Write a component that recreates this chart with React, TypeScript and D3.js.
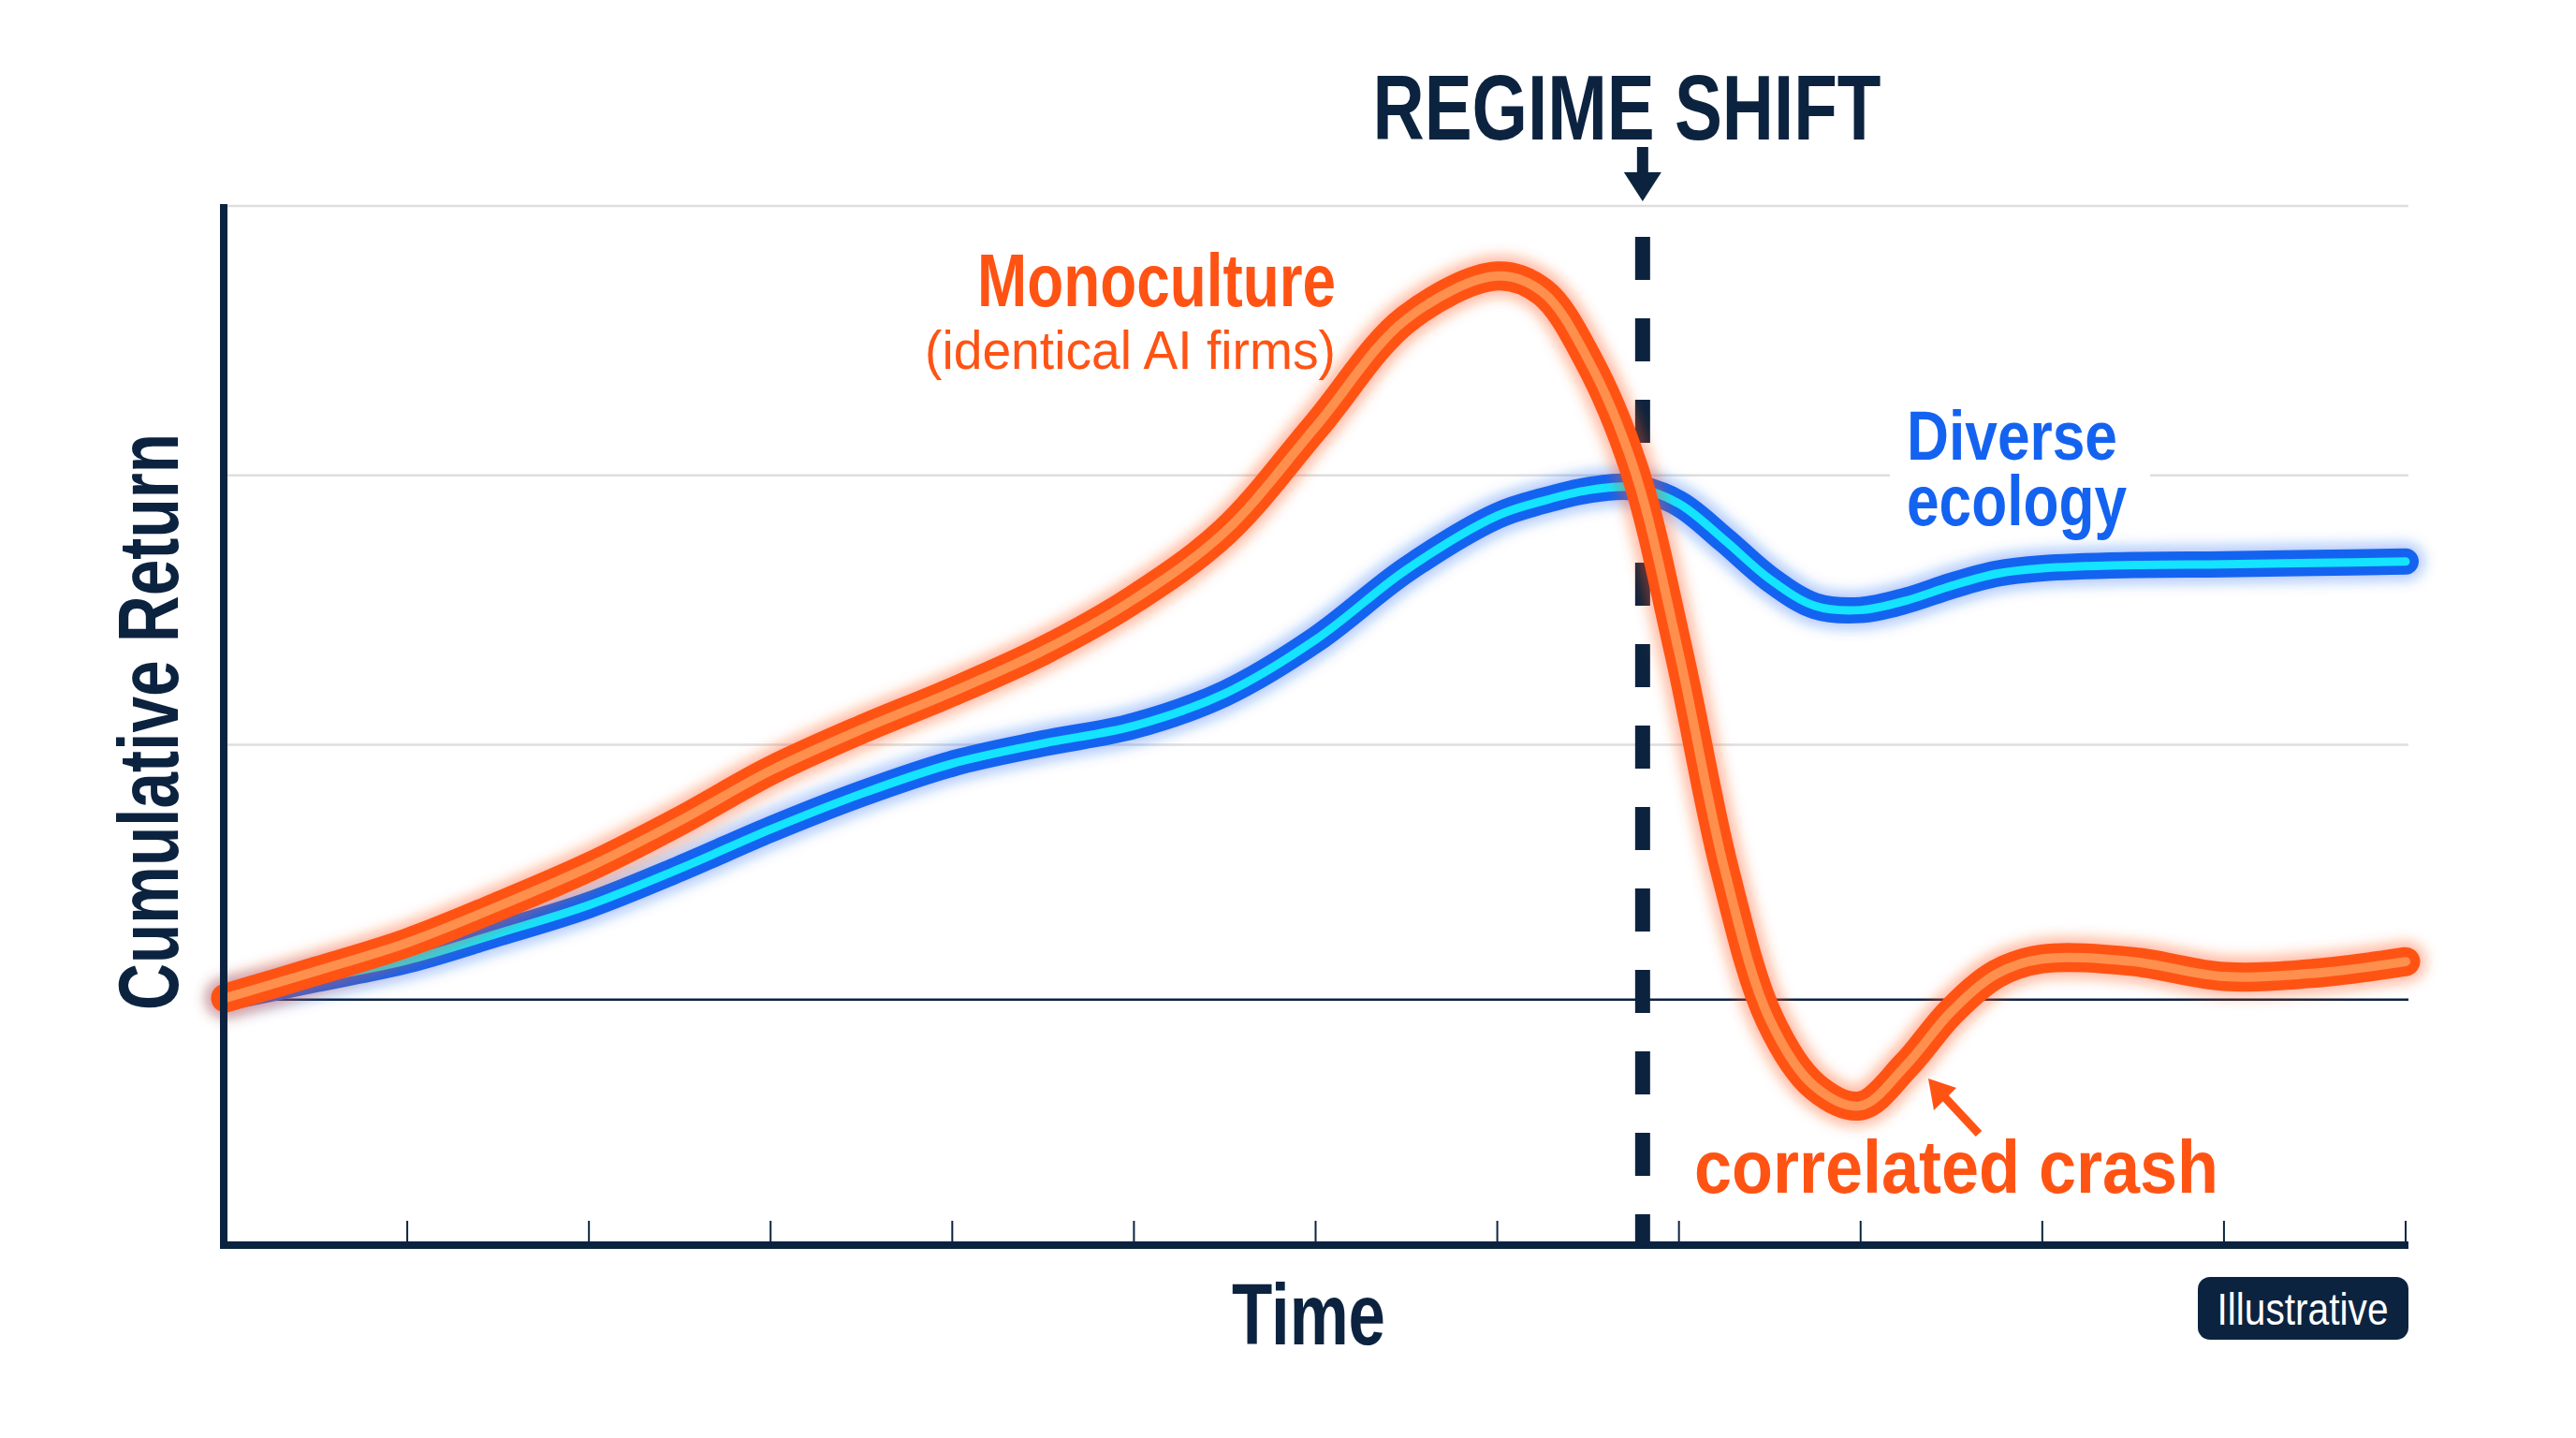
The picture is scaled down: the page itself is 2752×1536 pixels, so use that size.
import React from 'react';
import { scaleLinear, line, curveCatmullRom } from 'd3';

// time steps shared by both series (x axis has 12 unlabeled ticks)
const timeSteps = [0, 0.5, 1, 1.5, 2, 2.5, 3, 3.5, 4, 4.5, 5, 5.5, 6, 6.5, 7, 7.25, 7.5, 7.75, 8, 8.25, 8.5, 8.75, 9, 9.25, 9.5, 9.75, 10, 10.5, 11, 11.5, 12];
const monoculture = [0.06, 0.16, 0.265, 0.40, 0.546, 0.717, 0.904, 1.057, 1.196, 1.349, 1.54, 1.79, 2.18, 2.58, 2.74, 2.68, 2.43, 2.03, 1.34, 0.54, -0.02, -0.27, -0.34, -0.19, 0.01, 0.15, 0.205, 0.195, 0.14, 0.152, 0.195];
const diverse = [0.06, 0.13, 0.20, 0.30, 0.405, 0.54, 0.686, 0.818, 0.93, 1.005, 1.07, 1.19, 1.39, 1.65, 1.85, 1.905, 1.945, 1.955, 1.895, 1.76, 1.615, 1.515, 1.50, 1.535, 1.59, 1.635, 1.655, 1.667, 1.67, 1.675, 1.68];
const xTicks = [1, 2, 3, 4, 5, 6, 7, 8, 9, 10, 11, 12];
const gridValues = [1, 2, 3];
const startLevel = 0.054;
const regimeShiftAt = 7.8;

const NAVY = '#0c2340';
const ORANGE = '#ff5314';
const ORANGE_LIGHT = '#ff8f4d';
const BLUE = '#1463f0';
const CYAN = '#14e4ff';
const FONT = '"Liberation Sans Narrow", "Liberation Sans", Arial, sans-serif';

function App() {
  const width = 2752;
  const height = 1536;

  const x = scaleLinear().domain([0, 12]).range([241, 2570]);
  const y = scaleLinear().domain([-0.854, 3]).range([1329, 220]);

  const path = line<number>()
    .x((d, i) => x(timeSteps[i]))
    .y((d) => y(d))
    .curve(curveCatmullRom.alpha(0.5));

  const orangeD = path(monoculture) || '';
  const blueD = path(diverse) || '';
  const xr = x(12) + 3;
  const shiftX = x(regimeShiftAt);

  return (
    <svg width={width} height={height} viewBox={`0 0 ${width} ${height}`}
      style={{ position: 'absolute', left: 0, top: 0, background: '#fff' }}>
      <defs>
        <filter id="glow" filterUnits="userSpaceOnUse" x="0" y="0" width={width} height={height}>
          <feGaussianBlur stdDeviation="7" />
        </filter>
      </defs>
      <rect width={width} height={height} fill="#fff" />

      {/* gridlines */}
      {gridValues.map((g) => (
        <line key={g} x1={x(0) + 2} x2={xr} y1={y(g)} y2={y(g)} stroke="#dedede" strokeWidth={2.5} />
      ))}
      {/* baseline */}
      <line x1={x(0)} x2={xr} y1={y(startLevel)} y2={y(startLevel)} stroke={NAVY} strokeWidth={2.5} />

      {/* regime shift marker */}
      <line x1={shiftX} x2={shiftX} y1={253} y2={y.range()[0]} stroke={NAVY} strokeWidth={16} strokeDasharray="46 41" />
      <rect x={shiftX - 6} y={157} width={12} height={30} fill={NAVY} />
      <path d={`M${shiftX - 20},${184} L${shiftX + 20},${184} L${shiftX},${215} Z`} fill={NAVY} />
      <text x={1738} y={149} textAnchor="middle" fontFamily={FONT} fontWeight="bold" fontSize={98}
        fill={NAVY} textLength={543} lengthAdjust="spacingAndGlyphs">REGIME SHIFT</text>

      {/* diverse ecology label, white box breaks the gridline */}
      <rect x={2019} y={430} width={278} height={150} fill="#fff" />

      {/* blue series */}
      <path d={blueD} fill="none" stroke={BLUE} strokeOpacity={0.35} strokeWidth={40} strokeLinecap="round" filter="url(#glow)" />
      <path d={blueD} fill="none" stroke={BLUE} strokeWidth={28} strokeLinecap="round" strokeLinejoin="round" />
      <path d={blueD} fill="none" stroke={CYAN} strokeWidth={9} strokeLinecap="round" strokeLinejoin="round" />

      {/* orange series */}
      <path d={orangeD} fill="none" stroke={ORANGE} strokeOpacity={0.4} strokeWidth={44} strokeLinecap="round" filter="url(#glow)" />
      <path d={orangeD} fill="none" stroke={ORANGE} strokeWidth={31} strokeLinecap="round" strokeLinejoin="round" />
      <path d={orangeD} fill="none" stroke={ORANGE_LIGHT} strokeWidth={10} strokeLinecap="round" strokeLinejoin="round" />

      {/* axes */}
      {xTicks.map((t) => (
        <line key={t} x1={x(t)} x2={x(t)} y1={1304} y2={1328} stroke={NAVY} strokeWidth={2} />
      ))}
      <line x1={239} x2={239} y1={218} y2={1334} stroke={NAVY} strokeWidth={8} />
      <line x1={235} x2={xr} y1={1330} y2={1330} stroke={NAVY} strokeWidth={8} />

      {/* series labels */}
      <text x={1427} y={327} textAnchor="end" fontFamily={FONT} fontWeight="bold" fontSize={80}
        fill={ORANGE} textLength={383} lengthAdjust="spacingAndGlyphs">Monoculture</text>
      <text x={1427} y={394} textAnchor="end" fontFamily={FONT} fontSize={57}
        fill={ORANGE} textLength={439} lengthAdjust="spacingAndGlyphs">(identical AI firms)</text>
      <text x={2037} y={491} fontFamily={FONT} fontWeight="bold" fontSize={74}
        fill={BLUE} textLength={225} lengthAdjust="spacingAndGlyphs">Diverse</text>
      <text x={2037} y={561} fontFamily={FONT} fontWeight="bold" fontSize={76}
        fill={BLUE} textLength={235} lengthAdjust="spacingAndGlyphs">ecology</text>

      {/* correlated crash annotation */}
      <line x1={2114} y1={1211} x2={2072} y2={1166} stroke={ORANGE} strokeWidth={9} />
      <path d="M2060,1152 L2090,1162 L2066,1186 Z" fill={ORANGE} />
      <text x={1810} y={1274} fontFamily={FONT} fontWeight="bold" fontSize={80}
        fill={ORANGE} textLength={560} lengthAdjust="spacingAndGlyphs">correlated crash</text>

      {/* axis titles */}
      <text x={1398} y={1436} textAnchor="middle" fontFamily={FONT} fontWeight="bold" fontSize={93}
        fill={NAVY} textLength={164} lengthAdjust="spacingAndGlyphs">Time</text>
      <text transform="translate(190,771) rotate(-90)" textAnchor="middle" fontFamily={FONT} fontWeight="bold"
        fontSize={90} fill={NAVY} textLength={616} lengthAdjust="spacingAndGlyphs">Cumulative Return</text>

      {/* badge */}
      <rect x={2348} y={1364} width={225} height={67} rx={13} fill={NAVY} />
      <text x={2460} y={1415} textAnchor="middle" fontFamily={FONT} fontSize={48} fill="#fff"
        textLength={183} lengthAdjust="spacingAndGlyphs">Illustrative</text>
    </svg>
  );
}

export default App;
